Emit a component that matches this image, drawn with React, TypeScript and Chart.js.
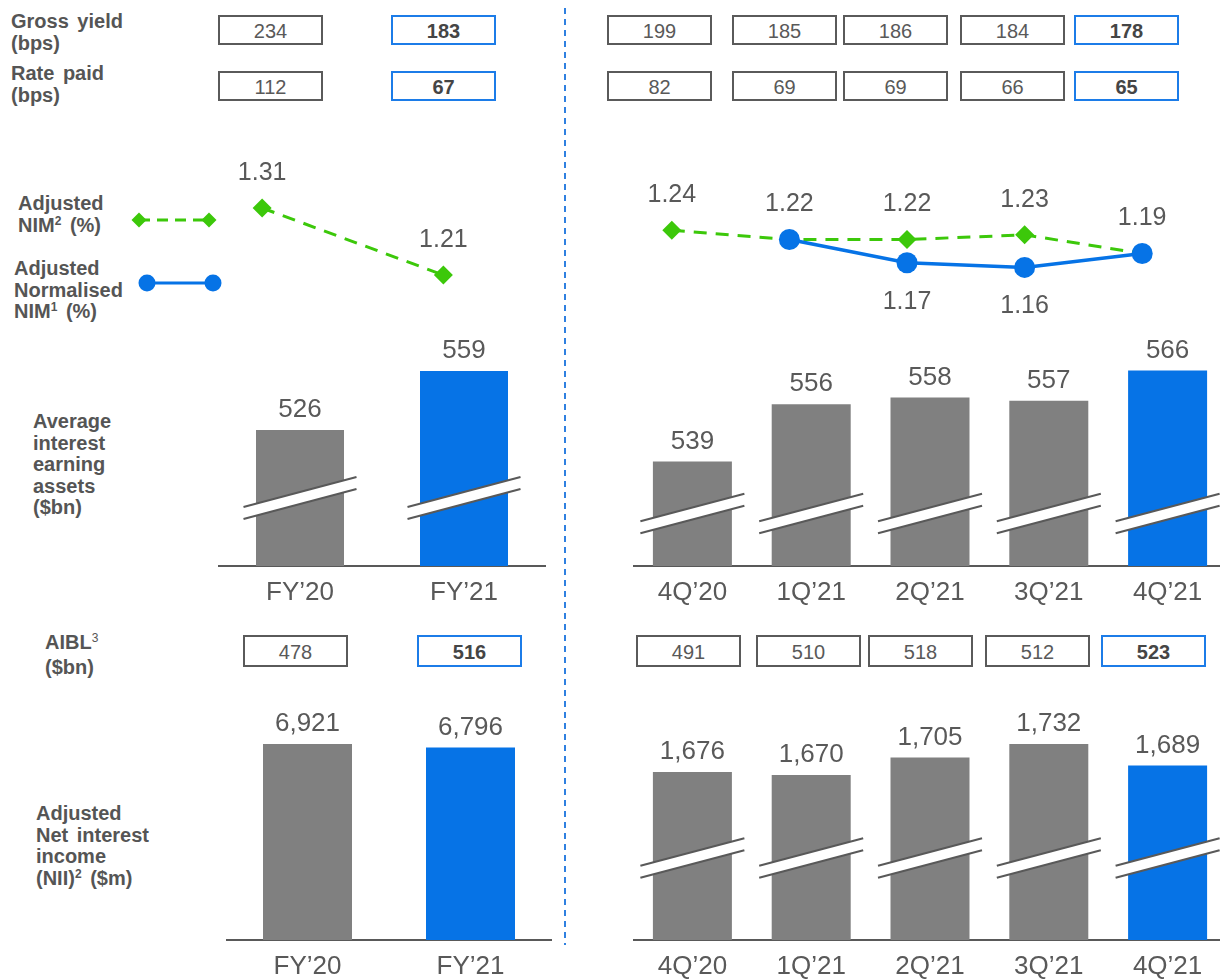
import React, { useEffect, useRef } from "react";
import { Chart, registerables } from "chart.js";

Chart.register(...registerables);

// ---------------- data ----------------
const fyLabels = ["FY’20", "FY’21"];
const qLabels = ["4Q’20", "1Q’21", "2Q’21", "3Q’21", "4Q’21"];

const fyGrossYield = [234, 183];
const qGrossYield = [199, 185, 186, 184, 178];
const fyRatePaid = [112, 67];
const qRatePaid = [82, 69, 69, 66, 65];

const fyAdjustedNim = [1.31, 1.21];
const qAdjustedNim = [1.24, 1.22, 1.22, 1.23, 1.19];
const qNormalisedNim = [null, 1.22, 1.17, 1.16, 1.19];

const fyAiea = [526, 559];
const qAiea = [539, 556, 558, 557, 566];

const fyAibl = [478, 516];
const qAibl = [491, 510, 518, 512, 523];

const fyNii = [6921, 6796];
const qNii = [1676, 1670, 1705, 1732, 1689];

// label placement (styling only)
const fyAdjNimLabelPos = ["above", "above"];
const qAdjNimLabelPos = ["above", null, "above", "above", null];
const qNormNimLabelPos = [null, "above", "below", "below", "above"];

// ---------------- styles ----------------
const FONT = "'Liberation Sans', Arial, Helvetica, sans-serif";
const TEXT = "#595959";
const LABEL_TEXT = "#555555";
const AXIS = "#595959";
const GREY = "#808080";
const BLUE = "#0673E6";
const BOX_BLUE = "#1C7CE8";
const BOX_GREY = "#5A5A5A";
const GREEN = "#3CC80A";

// box layout
const fyBoxX = [218, 391];
const qBoxX = [607, 732, 843, 960, 1074];
const fyAiblX = [243, 417];
const qAiblX = [636, 756, 868, 985, 1101];

// ---------------- plugins ----------------
const barDecor = {
  id: "barDecor",
  afterDatasetsDraw(chart: any, _a: any, opts: any) {
    const ctx = chart.ctx;
    const meta = chart.getDatasetMeta(0);
    const values = chart.data.datasets[0].data;
    const base = chart.chartArea.bottom;
    ctx.save();
    meta.data.forEach((bar: any, i: number) => {
      const { x, y, width } = bar.getProps(["x", "y", "width"], true);
      if (opts.breakOffset) {
        const yc = base - opts.breakOffset;
        const x1 = x - width / 2 - opts.breakExtra;
        const x2 = x + width / 2 + opts.breakExtra;
        const y1 = yc + opts.breakSlope * (x - x1);
        const y2 = yc - opts.breakSlope * (x2 - x);
        const g = opts.breakGap / 2;
        ctx.beginPath();
        ctx.moveTo(x1, y1 - g);
        ctx.lineTo(x2, y2 - g);
        ctx.lineTo(x2, y2 + g);
        ctx.lineTo(x1, y1 + g);
        ctx.closePath();
        ctx.fillStyle = "#ffffff";
        ctx.fill();
        ctx.strokeStyle = AXIS;
        ctx.lineWidth = 2;
        ctx.beginPath();
        ctx.moveTo(x1, y1 - g);
        ctx.lineTo(x2, y2 - g);
        ctx.stroke();
        ctx.beginPath();
        ctx.moveTo(x1, y1 + g);
        ctx.lineTo(x2, y2 + g);
        ctx.stroke();
      }
      ctx.fillStyle = TEXT;
      ctx.font = `26px ${FONT}`;
      ctx.textAlign = "center";
      ctx.textBaseline = "middle";
      ctx.fillText(Number(values[i]).toLocaleString("en-US"), x, y - opts.labelGap);
    });
    ctx.restore();
  },
};

function diamond(ctx: any, x: number, y: number, r: number) {
  ctx.beginPath();
  ctx.moveTo(x - r, y);
  ctx.lineTo(x, y - r);
  ctx.lineTo(x + r, y);
  ctx.lineTo(x, y + r);
  ctx.closePath();
  ctx.fill();
}

const nimDecor = {
  id: "nimDecor",
  afterDatasetsDraw(chart: any, _a: any, opts: any) {
    const ctx = chart.ctx;
    ctx.save();
    ctx.font = `25px ${FONT}`;
    ctx.fillStyle = TEXT;
    ctx.textAlign = "center";
    ctx.textBaseline = "middle";
    chart.data.datasets.forEach((ds: any, di: number) => {
      const meta = chart.getDatasetMeta(di);
      const pos = opts.positions[di];
      meta.data.forEach((pt: any, i: number) => {
        const p = pos[i];
        const v = ds.data[i];
        if (!p || v == null) return;
        const dy = p === "above" ? -opts.above : opts.below;
        ctx.fillText(Number(v).toFixed(2), pt.x, pt.y + dy);
      });
    });
    if (opts.legend) {
      const L = opts.legend;
      ctx.strokeStyle = GREEN;
      ctx.fillStyle = GREEN;
      ctx.lineWidth = 3;
      ctx.setLineDash([11, 7]);
      ctx.beginPath();
      ctx.moveTo(L.g[0], L.g[2]);
      ctx.lineTo(L.g[1], L.g[2]);
      ctx.stroke();
      ctx.setLineDash([]);
      diamond(ctx, L.g[0], L.g[2], 7.5);
      diamond(ctx, L.g[1], L.g[2], 7.5);
      ctx.strokeStyle = BLUE;
      ctx.fillStyle = BLUE;
      ctx.lineWidth = 3;
      ctx.beginPath();
      ctx.moveTo(L.b[0], L.b[2]);
      ctx.lineTo(L.b[1], L.b[2]);
      ctx.stroke();
      [L.b[0], L.b[1]].forEach((x: number) => {
        ctx.beginPath();
        ctx.arc(x, L.b[2], 8.5, 0, Math.PI * 2);
        ctx.fill();
      });
    }
    ctx.restore();
  },
};

// ---------------- config builders ----------------
const AXIS_H = 45;

function barConfig(labels: string[], values: number[], yMin: number, yMax: number, barPct: number, breakOffset: number) {
  return {
    type: "bar",
    data: {
      labels,
      datasets: [
        {
          data: values,
          backgroundColor: values.map((_, i) => (i === values.length - 1 ? BLUE : GREY)),
          barPercentage: barPct,
          categoryPercentage: 1,
          borderWidth: 0,
        },
      ],
    },
    options: {
      responsive: false,
      animation: false,
      layout: { padding: 0, autoPadding: false },
      plugins: {
        legend: { display: false },
        tooltip: { enabled: false },
        barDecor: { breakOffset, breakExtra: 12.5, breakSlope: 0.266, breakGap: 12, labelGap: 20 },
      },
      scales: {
        x: {
          grid: { display: false },
          border: { display: true, color: AXIS, width: 2 },
          ticks: { color: TEXT, font: { family: FONT, size: 26 }, padding: 3, maxRotation: 0, autoSkip: false },
          afterFit: (s: any) => {
            s.height = AXIS_H;
          },
        },
        y: { display: false, min: yMin, max: yMax },
      },
    },
    plugins: [barDecor],
  };
}

function nimConfig(labels: string[], datasets: any[], positions: any[], yMin: number, yMax: number, padLeft: number, legend: any) {
  return {
    type: "line",
    data: { labels, datasets },
    options: {
      responsive: false,
      animation: false,
      layout: { padding: { left: padLeft, right: 0, top: 0, bottom: 0 }, autoPadding: false },
      plugins: {
        legend: { display: false },
        tooltip: { enabled: false },
        nimDecor: { positions, above: 35, below: 39, legend },
      },
      scales: {
        x: { display: false, offset: true },
        y: { display: false, min: yMin, max: yMax },
      },
    },
    plugins: [nimDecor],
  };
}

const greenDs = (data: any[]) => ({
  data,
  borderColor: GREEN,
  backgroundColor: GREEN,
  pointBackgroundColor: GREEN,
  pointBorderColor: GREEN,
  borderDash: [13, 9],
  borderWidth: 3,
  pointStyle: "rectRot",
  pointRadius: 9.5,
  pointBorderWidth: 0,
  tension: 0,
  order: 1,
  clip: false,
});

const blueDs = (data: any[]) => ({
  data,
  borderColor: BLUE,
  backgroundColor: BLUE,
  pointBackgroundColor: BLUE,
  pointBorderColor: BLUE,
  borderWidth: 3.5,
  pointStyle: "circle",
  pointRadius: 10.5,
  pointBorderWidth: 0,
  tension: 0,
  order: 0,
  clip: false,
});

// ---------------- components ----------------
function ChartCanvas({ left, top, width, height, make }: any) {
  const ref = useRef<HTMLCanvasElement>(null);
  useEffect(() => {
    const chart = new Chart(ref.current as HTMLCanvasElement, make());
    return () => chart.destroy();
  }, []);
  return (
    <canvas
      ref={ref}
      width={width}
      height={height}
      style={{ position: "absolute", left, top, width, height }}
    />
  );
}

function ValueBox({ left, top, height, value, highlight }: any) {
  return (
    <div
      style={{
        position: "absolute",
        left,
        top,
        width: 105,
        height,
        boxSizing: "border-box",
        border: `2px solid ${highlight ? BOX_BLUE : BOX_GREY}`,
        display: "flex",
        alignItems: "center",
        justifyContent: "center",
        font: `${highlight ? "bold " : ""}20px ${FONT}`,
        color: highlight ? "#454545" : TEXT,
        paddingTop: 2,
      }}
    >
      {value}
    </div>
  );
}

function Label({ left, top, children }: any) {
  return (
    <div
      style={{
        position: "absolute",
        left,
        top,
        font: `bold 20px/21.5px ${FONT}`,
        color: LABEL_TEXT,
        whiteSpace: "nowrap",
        wordSpacing: 3,
      }}
    >
      {children}
    </div>
  );
}

const Sup = ({ children, bold = true }: any) => (
  <span style={{ fontSize: 12, position: "relative", top: -7, fontWeight: bold ? "bold" : "normal" }}>{children}</span>
);

function BoxRow({ xs, values, top, height }: any) {
  return (
    <>
      {values.map((v: number, i: number) => (
        <ValueBox key={i} left={xs[i]} top={top} height={height} value={v} highlight={i === values.length - 1} />
      ))}
    </>
  );
}

export default function App() {
  return (
    <div
      style={{
        position: "absolute",
        left: 0,
        top: 0,
        width: 1220,
        height: 979,
        overflow: "hidden",
        background: "#ffffff",
        fontFamily: FONT,
      }}
    >
      {/* row labels */}
      <Label left={11} top={11}>
        Gross yield
        <br />
        (bps)
      </Label>
      <Label left={11} top={63}>
        Rate paid
        <br />
        (bps)
      </Label>
      <Label left={18} top={193}>
        Adjusted
        <br />
        NIM<Sup>2</Sup> (%)
      </Label>
      <Label left={14} top={258}>
        Adjusted
        <br />
        Normalised
        <br />
        NIM<Sup>1</Sup> (%)
      </Label>
      <Label left={33} top={411}>
        Average
        <br />
        interest
        <br />
        earning
        <br />
        assets
        <br />
        ($bn)
      </Label>
      <Label left={45} top={632}>
        AIBL<Sup bold={false}>3</Sup>
        <br />
        ($bn)
      </Label>
      <Label left={36} top={803}>
        Adjusted
        <br />
        Net interest
        <br />
        income
        <br />
        (NII)<Sup>2</Sup> ($m)
      </Label>

      {/* boxes */}
      <BoxRow xs={fyBoxX} values={fyGrossYield} top={15} height={30} />
      <BoxRow xs={qBoxX} values={qGrossYield} top={15} height={30} />
      <BoxRow xs={fyBoxX} values={fyRatePaid} top={71} height={30} />
      <BoxRow xs={qBoxX} values={qRatePaid} top={71} height={30} />
      <BoxRow xs={fyAiblX} values={fyAibl} top={635} height={32} />
      <BoxRow xs={qAiblX} values={qAibl} top={635} height={32} />

      {/* dashed divider */}
      <div
        style={{
          position: "absolute",
          left: 564,
          top: 8,
          width: 2,
          height: 937,
          background: "repeating-linear-gradient(to bottom, #2F80E0 0px, #2F80E0 6px, transparent 6px, transparent 11px)",
        }}
      />

      {/* NIM charts */}
      <ChartCanvas
        left={0}
        top={150}
        width={534}
        height={180}
        make={() =>
          nimConfig(
            fyLabels,
            [greenDs(fyAdjustedNim)],
            [fyAdjNimLabelPos],
            1.3966 - 180 / 670,
            1.3966,
            171.5,
            { g: [139, 209, 70], b: [147, 213, 133] }
          )
        }
      />
      <ChartCanvas
        left={613}
        top={150}
        width={588}
        height={180}
        make={() =>
          nimConfig(
            qLabels,
            [blueDs(qNormalisedNim), greenDs(qAdjustedNim)],
            [qNormNimLabelPos, qAdjNimLabelPos],
            1.4125 - 180 / 465,
            1.4125,
            0,
            null
          )
        }
      />

      {/* AIEA bars */}
      <ChartCanvas
        left={218}
        top={330}
        width={328}
        height={236 + AXIS_H}
        make={() => barConfig(fyLabels, fyAiea, 450, 450 + 236 / 1.79, 88 / 164, 68)}
      />
      <ChartCanvas
        left={633}
        top={330}
        width={594}
        height={236 + AXIS_H}
        make={() => barConfig(qLabels, qAiea, 508, 508 + 236 / 3.37, 79 / 118.8, 52.5)}
      />

      {/* NII bars */}
      <ChartCanvas
        left={226}
        top={690}
        width={326}
        height={250 + AXIS_H}
        make={() => barConfig(fyLabels, fyNii, 0, 250 / 0.02832, 89 / 163, 0)}
      />
      <ChartCanvas
        left={633}
        top={690}
        width={594}
        height={250 + AXIS_H}
        make={() => barConfig(qLabels, qNii, 1340, 1840, 79 / 118.8, 82)}
      />
    </div>
  );
}
